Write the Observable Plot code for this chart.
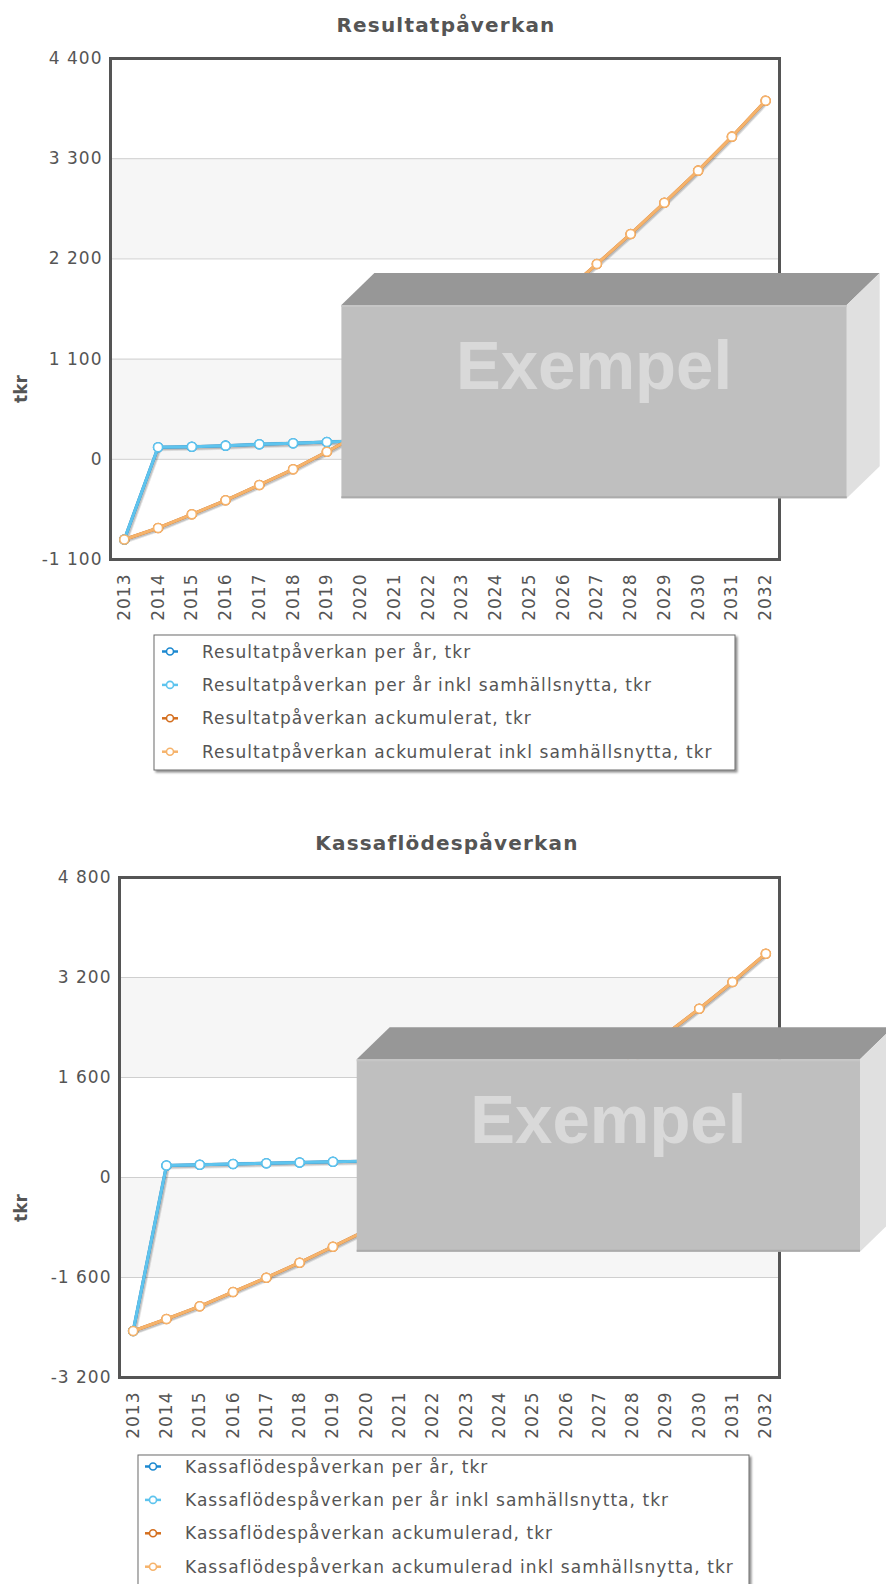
<!DOCTYPE html>
<html>
<head>
<meta charset="utf-8">
<script src="https://cdn.jsdelivr.net/npm/d3@7"></script>
<script src="https://cdn.jsdelivr.net/npm/@observablehq/plot@0.6"></script>
<style>
  html, body { margin: 0; padding: 0; background: #fff; }
  #page { width: 886px; }
  #page svg { display: block; }
  [aria-label="x-axis tick label"] text,
  [aria-label="y-axis tick label"] text { letter-spacing: 1px; }
</style>
</head>
<body>
<div id="page"></div>
<script>
// Years on the x axis
const years = [2013, 2014, 2015, 2016, 2017, 2018, 2019, 2020, 2021, 2022,
               2023, 2024, 2025, 2026, 2027, 2028, 2029, 2030, 2031, 2032];

// Resultatpåverkan (tkr)
const resultatPerAr = [-880, 132, 138, 150, 165, 176, 190, 205, 220, 236,
                       252, 268, 285, 300, 315, 330, 343, 352, 373, 395];
const resultatPerArInkl = [-880, 132, 138, 150, 165, 176, 190, 205, 220, 236,
                           252, 268, 285, 300, 315, 330, 343, 352, 373, 395];
const resultatAck = [-880, -754, -604, -450, -282, -110, 83, 285, 500, 730,
                     975, 1235, 1515, 1820, 2144, 2474, 2817, 3169, 3542, 3937];
const resultatAckInkl = [-880, -754, -604, -450, -282, -110, 83, 285, 500, 730,
                         975, 1235, 1515, 1820, 2144, 2474, 2817, 3169, 3542, 3937];

// Kassaflödespåverkan (tkr)
const kassaPerAr = [-2456, 192, 203, 216, 229, 240, 252, 262, 280, 298,
                    316, 333, 355, 372, 380, 394, 408, 420, 427, 453];
const kassaPerArInkl = [-2456, 192, 203, 216, 229, 240, 252, 262, 280, 298,
                        316, 333, 355, 372, 380, 394, 408, 420, 427, 453];
const kassaAck = [-2456, -2264, -2061, -1832, -1603, -1363, -1107, -845, -565, -267,
                  49, 382, 737, 1109, 1489, 1883, 2291, 2701, 3128, 3581];
const kassaAckInkl = [-2456, -2264, -2061, -1832, -1603, -1363, -1107, -845, -565, -267,
                      49, 382, 737, 1109, 1489, 1883, 2291, 2701, 3128, 3581];

// Axis ticks
const resultatTicks = [-1100, 0, 1100, 2200, 3300, 4400];
const kassaTicks = [-3200, -1600, 0, 1600, 3200, 4800];

// Legend texts
const resultatNames = [
  "Resultatpåverkan per år, tkr",
  "Resultatpåverkan per år inkl samhällsnytta, tkr",
  "Resultatpåverkan ackumulerat, tkr",
  "Resultatpåverkan ackumulerat inkl samhällsnytta, tkr"
];
const kassaNames = [
  "Kassaflödespåverkan per år, tkr",
  "Kassaflödespåverkan per år inkl samhällsnytta, tkr",
  "Kassaflödespåverkan ackumulerad, tkr",
  "Kassaflödespåverkan ackumulerad inkl samhällsnytta, tkr"
];

const seriesColors = ["#1c89d0", "#5ec4ee", "#d46f1f", "#f6b36b"];

const FONT = "'DejaVu Sans', Verdana, sans-serif";

// "4 400", "-1 100" style numbers
const fmt = n => (n < 0 ? "-" : "") + String(Math.abs(n)).replace(/\B(?=(\d{3})+(?!\d))/g, " ");

function chart(cfg) {
  const series = cfg.values.map((vals, i) => ({
    name: cfg.names[i],
    color: seriesColors[i],
    rows: years.map((year, j) => ({year, value: vals[j]}))
  }));
  // alternate bands between every second pair of ticks
  const bands = d3.pairs(cfg.ticks).filter((_, i) => i % 2 === 1).map(([lo, hi]) => ({lo, hi}));

  const marks = [
    Plot.rect(bands, {y1: "lo", y2: "hi", fill: "#f6f6f6"}),
    Plot.ruleY(cfg.ticks, {stroke: "#cfcfcf", strokeWidth: 1})
  ];
  // order: dark series below, light (inkl samhällsnytta) series above
  const order = [0, 2, 1, 3];
  for (const i of order) {
    const s = series[i];
    marks.push(
      Plot.line(s.rows, {x: "year", y: "value", stroke: "#000", strokeOpacity: 0.05, strokeWidth: 6, dx: 1, dy: 1}),
      Plot.line(s.rows, {x: "year", y: "value", stroke: "#000", strokeOpacity: 0.08, strokeWidth: 4, dx: 1, dy: 1}),
      Plot.line(s.rows, {x: "year", y: "value", stroke: s.color, strokeWidth: 3}),
      Plot.dot(s.rows, {x: "year", y: "value", r: 4.5, fill: "white", stroke: s.color, strokeWidth: 1.6})
    );
  }
  marks.push(
    Plot.frame({stroke: "#555", strokeWidth: 3}),
    Plot.axisY(cfg.ticks, {tickSize: 0, tickPadding: 8, tickFormat: fmt, label: null, fontSize: 17}),
    Plot.axisX({tickRotate: -90, tickSize: 0, tickPadding: 14, tickFormat: d => String(d), label: null, fontSize: 17})
  );

  const svg = Plot.plot({
    width: 886,
    height: cfg.height,
    marginTop: cfg.marginTop,
    marginBottom: cfg.marginBottom,
    marginLeft: cfg.marginLeft,
    marginRight: cfg.marginRight,
    style: {fontFamily: FONT, fontSize: "17px", color: "#555", background: "white", overflow: "visible"},
    x: {type: "point", domain: years, padding: 0.41, round: false},
    y: {domain: [cfg.ticks[0], cfg.ticks[cfg.ticks.length - 1]]},
    marks
  });

  const root = d3.select(svg);
  const defs = root.append("defs");
  defs.append("filter").attr("id", cfg.id + "-shadow")
    .attr("x", "-5%").attr("y", "-5%").attr("width", "110%").attr("height", "120%")
    .append("feDropShadow").attr("dx", 2).attr("dy", 2).attr("stdDeviation", 1.3)
    .attr("flood-color", "#000").attr("flood-opacity", 0.45);

  // Title
  root.append("text")
    .attr("x", cfg.titleX).attr("y", cfg.titleY)
    .attr("text-anchor", "middle")
    .attr("font-family", FONT).attr("font-size", 20).attr("font-weight", "bold")
    .attr("letter-spacing", "1.2px")
    .attr("fill", "#555")
    .text(cfg.title);

  // Y axis label
  root.append("text")
    .attr("transform", `translate(27,${cfg.tkrY}) rotate(-90)`)
    .attr("text-anchor", "middle")
    .attr("font-family", FONT).attr("font-size", 17).attr("font-weight", "bold")
    .attr("fill", "#555")
    .text("tkr");

  // Legend
  const L = cfg.legend;
  root.append("rect")
    .attr("x", L.x).attr("y", L.y).attr("width", L.w).attr("height", L.h)
    .attr("fill", "white").attr("stroke", "#6a6a6a").attr("stroke-width", 1)
    .attr("filter", `url(#${cfg.id}-shadow)`);
  series.forEach((s, i) => {
    const cy = L.firstY + i * L.step;
    const g = root.append("g");
    g.append("line")
      .attr("x1", L.markerX - 8).attr("x2", L.markerX + 8)
      .attr("y1", cy).attr("y2", cy)
      .attr("stroke", s.color).attr("stroke-width", 2.5);
    g.append("circle")
      .attr("cx", L.markerX).attr("cy", cy).attr("r", 3.5)
      .attr("fill", "white").attr("stroke", s.color).attr("stroke-width", 1.6);
    g.append("text")
      .attr("x", L.textX).attr("y", cy + 6)
      .attr("text-anchor", "start")
      .attr("font-family", FONT).attr("font-size", 17)
      .attr("letter-spacing", "1.05px")
      .attr("fill", "#555")
      .text(s.name);
  });

  // "Exempel" overlay block
  const B = cfg.box, d = 33, e = 32;
  const box = root.append("g");
  box.append("polygon")
    .attr("points", [[B.x, B.y], [B.x + d, B.y - e], [B.x + B.w + d, B.y - e], [B.x + B.w, B.y]].join(" "))
    .attr("fill", "#979797");
  box.append("polygon")
    .attr("points", [[B.x + B.w, B.y], [B.x + B.w + d, B.y - e], [B.x + B.w + d, B.y + B.h - e], [B.x + B.w, B.y + B.h]].join(" "))
    .attr("fill", "#e0e0e0");
  box.append("rect")
    .attr("x", B.x).attr("y", B.y).attr("width", B.w).attr("height", B.h)
    .attr("fill", "#bfbfbf");
  box.append("line")
    .attr("x1", B.x).attr("x2", B.x + B.w).attr("y1", B.y + 1).attr("y2", B.y + 1)
    .attr("stroke", "#c6c6c6").attr("stroke-width", 2);
  box.append("line")
    .attr("x1", B.x).attr("x2", B.x + B.w).attr("y1", B.y + B.h - 1).attr("y2", B.y + B.h - 1)
    .attr("stroke", "#ababab").attr("stroke-width", 2);
  box.append("text")
    .attr("x", B.x + B.w / 2).attr("y", B.y + 83.5)
    .attr("text-anchor", "middle")
    .attr("font-family", "'Liberation Sans', Arial, sans-serif")
    .attr("font-size", 69).attr("font-weight", "bold")
    .attr("textLength", 276).attr("lengthAdjust", "spacingAndGlyphs")
    .attr("fill", "#d9d9d9")
    .text("Exempel");

  return svg;
}

const page = document.getElementById("page");

page.appendChild(chart({
  id: "resultat",
  title: "Resultatpåverkan",
  names: resultatNames,
  values: [resultatPerAr, resultatPerArInkl, resultatAck, resultatAckInkl],
  ticks: resultatTicks,
  height: 800, marginTop: 58, marginBottom: 241, marginLeft: 110, marginRight: 107,
  titleX: 446, titleY: 32, tkrY: 389,
  legend: {x: 154, y: 635, w: 581, h: 135, markerX: 170, textX: 202, firstY: 651.5, step: 33.4},
  box: {x: 341.4, y: 305, w: 505.3, h: 193.3}
}));

page.appendChild(chart({
  id: "kassa",
  title: "Kassaflödespåverkan",
  names: kassaNames,
  values: [kassaPerAr, kassaPerArInkl, kassaAck, kassaAckInkl],
  ticks: kassaTicks,
  height: 784, marginTop: 77, marginBottom: 207, marginLeft: 119, marginRight: 107,
  titleX: 447, titleY: 50, tkrY: 408,
  legend: {x: 138, y: 655, w: 611, h: 140, markerX: 153, textX: 185, firstY: 666.5, step: 33.4},
  box: {x: 356.7, y: 259.3, w: 503.3, h: 192.4}
}));
</script>
</body>
</html>
